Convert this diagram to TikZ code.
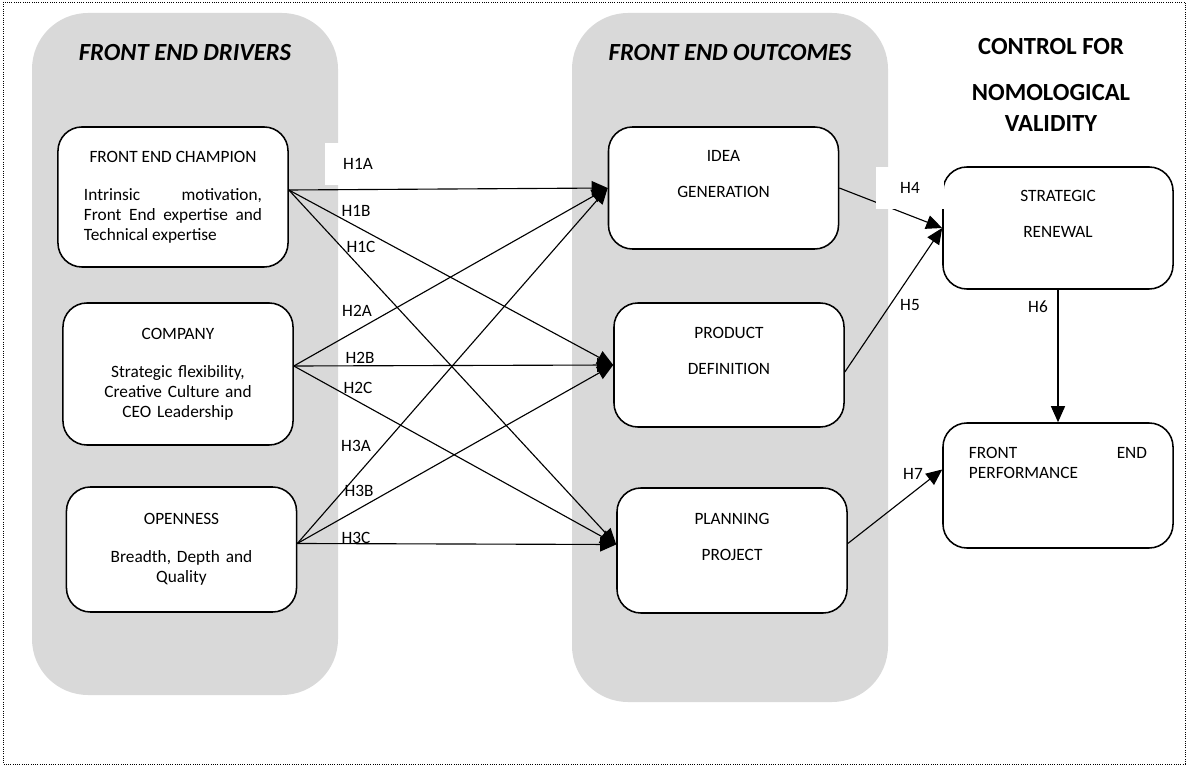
\documentclass[tikz,border=0pt]{standalone}
\usepackage{fontspec}
\setmainfont{Carlito}
\usetikzlibrary{positioning}
\usetikzlibrary{calc}
\usetikzlibrary{arrows.meta}
\definecolor{panelgray}{RGB}{217,217,217}

\begin{document}
\begin{tikzpicture}[x=0.025cm, y=-0.025cm,
                    every node/.style={font=\fontsize{12.3}{14.2}\selectfont, inner sep=0pt},
                    panel/.style={fill=panelgray, rounded corners=1.4cm},
                    paneltitle/.style={font=\fontsize{17.5}{22}\selectfont\bfseries, align=center},
                    roundbox/.style={draw, line width=1.1pt, fill=white, rounded corners=0.6cm,
                                     minimum width=5.75cm, text width=4.45cm, align=center},
                    whitelabel/.style={fill=white, minimum height=1.05cm},
                    hyp/.style={-{Triangle[length=0.4cm, width=0.35cm]}, line width=0.8pt}]
    \useasboundingbox (0,0) rectangle (1188,766);
    \draw[densely dotted, line width=0.6pt] (3,2) rectangle (1185,764);

    % grey panels
    \fill[panel] (32,13) rectangle (338,695);
    \fill[panel] (572,13) rectangle (888,702);
    \node[paneltitle, font=\fontsize{17.5}{22}\selectfont\bfseries\itshape] (drivers) at (185,53) {FRONT END DRIVERS};
    \node[paneltitle, font=\fontsize{17.5}{22}\selectfont\bfseries\itshape] (outcomes) at (730,53) {FRONT END OUTCOMES};
    \node[paneltitle] (control) at (1051,85) {CONTROL FOR\\[0.375cm]NOMOLOGICAL\\VALIDITY};

    % drivers
    \node[roundbox, minimum height=3.5cm, align=justify] (champ) at (173,197)
        {{\centering FRONT END CHAMPION\par}\vspace{0.45cm}Intrinsic motivation,\linebreak Front End expertise and\linebreak Technical expertise};
    \node[roundbox, minimum height=3.55cm] (company) at (178,374)
        {COMPANY\\[0.45cm]Strategic flexibility,\\Creative Culture and\\CEO Leadership};
    \node[roundbox, minimum height=3.125cm] (open) at (181.5,549.5)
        {OPENNESS\\[0.45cm]Breadth, Depth and\\Quality};

    % outcomes
    \node[roundbox, minimum height=3.05cm] (idea) at (723.5,188) {IDEA\\[0.4cm]GENERATION\\[0.05cm]\strut};
    \node[roundbox, minimum height=3.1cm] (product) at (729,365) {PRODUCT\\[0.4cm]DEFINITION\\[0.05cm]\strut};
    \node[roundbox, minimum height=3.125cm] (plan) at (732,550.5) {PLANNING\\[0.4cm]PROJECT\\[0.05cm]\strut};

    % nomological validity
    \node[roundbox, minimum height=3.05cm] (renewal) at (1058,228) {STRATEGIC\\[0.4cm]RENEWAL\\[0.05cm]\strut};
    \node[roundbox, minimum height=3.125cm, align=justify] (perf) at (1058,485.5)
        {FRONT END\linebreak PERFORMANCE\\\strut\\\strut};

    % hypotheses
    \draw[hyp] ($(champ.east)+(0,-7)$) -- (idea.west);
    \draw[hyp] ($(champ.east)+(0,-7)$) -- (product.west);
    \draw[hyp] ($(champ.east)+(0,-7)$) -- ($(plan.west)+(0,-6)$);
    \draw[hyp] ($(company.east)+(0,-8)$) -- (idea.west);
    \draw[hyp] ($(company.east)+(0,-8)$) -- (product.west);
    \draw[hyp] ($(company.east)+(0,-8)$) -- ($(plan.west)+(0,-6)$);
    \draw[hyp] ($(open.east)+(0,-6)$) -- (idea.west);
    \draw[hyp] ($(open.east)+(0,-6)$) -- (product.west);
    \draw[hyp] ($(open.east)+(0,-6)$) -- ($(plan.west)+(0,-6)$);
    \draw[hyp] (idea.east) -- (renewal.west);
    \draw[hyp] ($(product.east)+(0,7)$) -- (renewal.west);
    \draw[hyp] (renewal.south) -- (perf.north);
    \draw[hyp] ($(plan.east)+(0,-7)$) -- ($(perf.west)+(0,-16)$);

    \node[whitelabel, minimum width=1.65cm] (h1a) at (358,164) {H1A};
    \node (h1b) at (356,211) {H1B};
    \node (h1c) at (361,247) {H1C};
    \node (h2a) at (357,311) {H2A};
    \node (h2b) at (360,358) {H2B};
    \node (h2c) at (358,388) {H2C};
    \node (h3a) at (356,446) {H3A};
    \node (h3b) at (359,491) {H3B};
    \node (h3c) at (356,538) {H3C};
    \node[whitelabel, minimum width=1.7cm] (h4) at (910,188) {H4};
    \node (h5) at (910,305) {H5};
    \node (h6) at (1038,307) {H6};
    \node (h7) at (913,474) {H7};
\end{tikzpicture}
\end{document}
